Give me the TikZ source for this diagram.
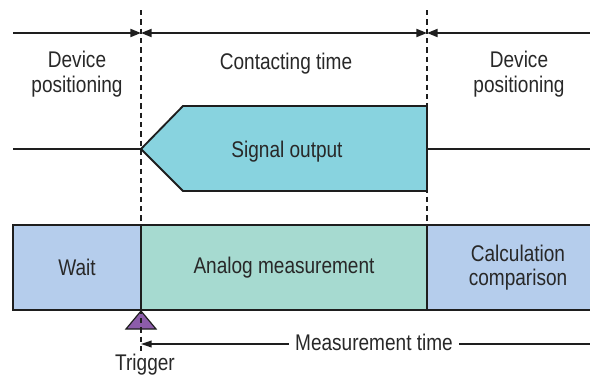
\documentclass[tikz,border=0pt]{standalone}
\usepackage{fontspec}
\setmainfont[FakeStretch=0.84]{Liberation Sans}
\usetikzlibrary{arrows.meta}
\definecolor{txtc}{RGB}{40,40,40}
\definecolor{linec}{RGB}{30,30,30}
\definecolor{waitc}{RGB}{181,205,236}
\definecolor{anac}{RGB}{166,218,208}
\definecolor{sigc}{RGB}{136,211,223}
\definecolor{trgc}{RGB}{140,92,170}
\begin{document}
\begin{tikzpicture}[x=0.75pt,y=-0.75pt,
  lbl/.style={font=\fontsize{17}{18.5}\selectfont, text=txtc, align=center, inner sep=0pt},
  tline/.style={draw=linec, line width=1.5pt},
  vdash/.style={draw=linec, line width=0.9pt, dash pattern=on 4pt off 3pt},
  mytip/.tip={Triangle[length=8pt,width=6pt]},
  boxn/.style={draw=linec, line width=1.4pt, inner sep=0pt, minimum height=63.75pt,
    font=\fontsize{17}{18.5}\selectfont, text=txtc, align=center}]
\useasboundingbox (0,0) rectangle (590,375);
\clip (0,0) rectangle (590,375);
% top time line
\coordinate (tl) at (13,33);
\coordinate (tm1) at (141,33);
\coordinate (tm2) at (427,33);
\coordinate (tr) at (600,33);
\draw[tline,-{mytip}] (tl) -- (tm1);
\draw[tline,{mytip}-{mytip}] (tm1) -- (tm2);
\draw[tline,{mytip}-] (tm2) -- (tr);
% labels
\node[lbl] (dp1) at (77,74) {Device\\positioning};
\node[lbl, anchor=base] (ct) at (286,69) {Contacting time};
\node[lbl] (dp2) at (519,74) {Device\\positioning};
% signal
\coordinate (sl) at (13,149);
\coordinate (stip) at (141,149);
\coordinate (sr1) at (427,149);
\coordinate (sr2) at (600,149);
\draw[tline] (sl) -- (stip);
\draw[tline] (sr1) -- (sr2);
\filldraw[fill=sigc, draw=linec, line width=1.4pt, line join=miter]
  (stip) -- (183,106) -- (427,106) -- (427,191) -- (183,191) -- cycle;
\node[lbl, anchor=base] (so) at (287,157) {Signal output};
% boxes
\node[boxn, fill=waitc, minimum width=96pt] (wait) at (77,267.5) {Wait};
\node[boxn, fill=anac, minimum width=214.5pt] (ana) at (284,267.5) {Analog measurement};
\node[boxn, fill=waitc, minimum width=136.5pt] (calc) at (518,267.5) {Calculation\\comparison};
% trigger
\filldraw[fill=trgc, draw=linec, line width=0.9pt] (141,311) -- (156,329) -- (126,329) -- cycle;
\node[lbl, anchor=base] (trg) at (145,370) {Trigger};
% dashed lines
\coordinate (d1a) at (141,10);
\coordinate (d1b) at (141,352);
\coordinate (d2a) at (427,10);
\coordinate (d2b) at (427,225);
\draw[vdash] (d1a) -- (d1b);
\draw[vdash] (d2a) -- (d2b);
% measurement time
\node[lbl, inner xsep=4.5pt, anchor=base] (mt) at (374,350) {Measurement time};
\coordinate (mtl) at (141,344);
\coordinate (mtr) at (600,344);
\draw[draw=linec, line width=1.2pt, -{Triangle[length=8pt,width=5pt]}] (mt.west |- mtl) -- (mtl);
\draw[draw=linec, line width=1.2pt] (mt.east |- mtr) -- (mtr);
\end{tikzpicture}
\end{document}
